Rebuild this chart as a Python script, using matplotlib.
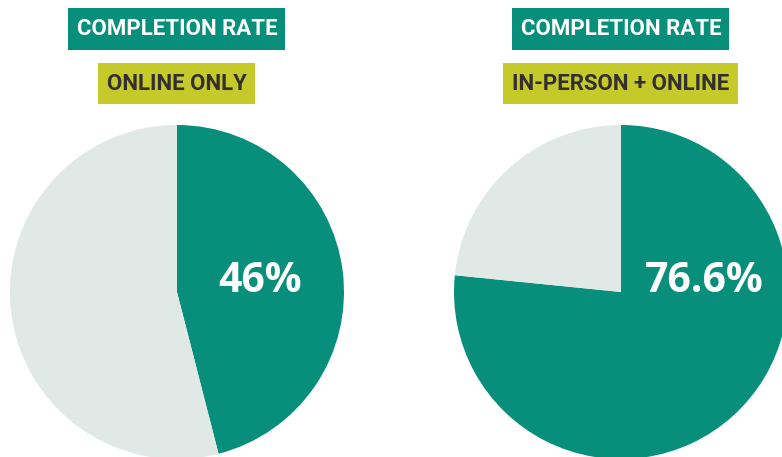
import matplotlib
matplotlib.use("Agg")
import matplotlib.pyplot as plt
from matplotlib.patches import Rectangle

# data
groups = ["ONLINE ONLY", "IN-PERSON + ONLINE"]
completion = [46.0, 76.6]
labels = ["46%", "76.6%"]
title = "COMPLETION RATE"

teal = "#078f7b"
grey = "#e0e9e6"
olive = "#c5ca2a"
dark = "#332f2e"

W, H = 782, 457
fig = plt.figure(figsize=(W / 100, H / 100), dpi=100)
ax = fig.add_axes([0, 0, 1, 1])

centers_x = [177, 621]
cy = H - 292
r = 167

for i in range(2):
    cx = centers_x[i]
    ax.pie([completion[i], 100 - completion[i]], colors=[teal, grey],
           startangle=90, counterclock=False, center=(cx, cy), radius=r,
           wedgeprops=dict(linewidth=0))
    ax.text(cx + 83, H - 281, labels[i], ha="center", va="center",
            fontsize=29.5, fontweight="bold", color="white", family="Open Sans")

    # header boxes
    ax.add_patch(Rectangle((cx - 109, H - 50), 217, 42, color=teal, lw=0))
    ax.text(cx, H - 29, title, ha="center", va="center", fontsize=16,
            fontweight="bold", color="white", family="Roboto")
    bw = 157 if i == 0 else 235
    ax.add_patch(Rectangle((cx - 0.5 - bw / 2, H - 104), bw, 41, color=olive, lw=0))
    ax.text(cx, H - 83.5, groups[i], ha="center", va="center", fontsize=16,
            fontweight="bold", color=dark, family="Roboto")

ax.set_xlim(0, W)
ax.set_ylim(0, H)
ax.set_aspect("equal")
ax.axis("off")

fig.savefig("out.png", dpi=100)
